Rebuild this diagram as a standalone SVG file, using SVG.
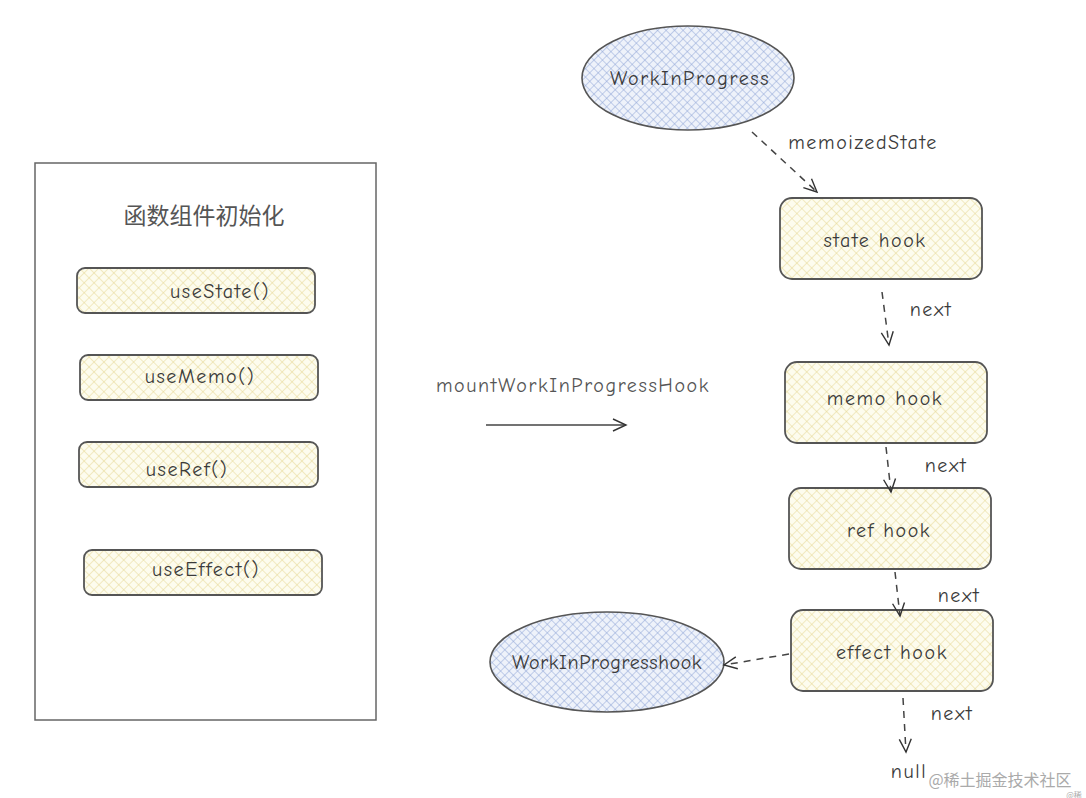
<svg xmlns="http://www.w3.org/2000/svg" width="1086" height="798" viewBox="0 0 1086 798">
<defs>
<pattern id="hb" width="6" height="6" patternUnits="userSpaceOnUse" patternTransform="rotate(45)">
<rect width="6" height="6" fill="#eef2fa"/>
<path d="M0 0H6M0 0V6" stroke="#8ea5d6" stroke-width="1"/>
</pattern>
<pattern id="hy" width="7" height="7" patternUnits="userSpaceOnUse" patternTransform="rotate(45)">
<rect width="7" height="7" fill="#fdfcee"/>
<path d="M0 0H7M0 0V7" stroke="#e6d793" stroke-width="1"/>
</pattern>
<marker id="ah" markerWidth="16" markerHeight="16" refX="14" refY="8" orient="auto" markerUnits="userSpaceOnUse">
<path d="M1 2 L14 8 L1 14" fill="none" stroke="#333" stroke-width="1.4"/>
</marker>
</defs>
<style>
.t{font-family:"Comic Neue","Noto Sans","Liberation Sans",sans-serif;font-size:20px;letter-spacing:1.6px;fill:#3a3a3a;text-anchor:middle;dominant-baseline:central}
.y{fill:url(#hy);stroke:#555;stroke-width:1.8}
.b{fill:url(#hb);stroke:#555;stroke-width:1.6}
.d{fill:none;stroke:#444;stroke-width:1.5;stroke-dasharray:7 6;marker-end:url(#ah)}
</style>
<rect width="1086" height="798" fill="#fff"/>
<g id="container">
<rect x="35" y="163" width="341" height="557" fill="#fff" stroke="#666" stroke-width="1.5"/>
<text x="204" y="214" style="font-family:'Noto Sans CJK SC',sans-serif;font-size:23px;fill:#555;text-anchor:middle;dominant-baseline:central">函数组件初始化</text>
</g>
<g id="useState"><rect class="y" x="77" y="268" width="238" height="45" rx="8"/><text class="t" x="220" y="291">useState()</text></g>
<g id="useMemo"><rect class="y" x="80" y="355" width="238" height="45" rx="8"/><text class="t" x="200" y="376">useMemo()</text></g>
<g id="useRef"><rect class="y" x="79" y="442" width="239" height="45" rx="8"/><text class="t" x="187" y="469">useRef()</text></g>
<g id="useEffect"><rect class="y" x="84" y="550" width="238" height="45" rx="8"/><text class="t" x="206" y="569">useEffect()</text></g>
<g id="mountLabel"><text class="t" x="573" y="385" style="fill:#555">mountWorkInProgressHook</text></g>
<g id="wip"><ellipse class="b" cx="688" cy="78" rx="106" ry="52"/><text class="t" x="690" y="78">WorkInProgress</text></g>
<g id="stateHook"><rect class="y" x="780" y="198" width="202" height="81" rx="12"/><text class="t" x="875" y="240">state hook</text></g>
<g id="memoHook"><rect class="y" x="785" y="362" width="202" height="81" rx="12"/><text class="t" x="885" y="398">memo hook</text></g>
<g id="refHook"><rect class="y" x="789" y="488" width="202" height="81" rx="12"/><text class="t" x="889" y="530">ref hook</text></g>
<g id="effectHook"><rect class="y" x="791" y="610" width="202" height="81" rx="12"/><text class="t" x="892" y="652">effect hook</text></g>
<g id="wipHook"><ellipse class="b" cx="607" cy="662" rx="117" ry="50"/><text class="t" x="607" y="662" style="letter-spacing:0.6px">WorkInProgresshook</text></g>
<g id="nullNode"><text class="t" x="909" y="771">null</text></g>
<g id="connectors">
<path d="M486 425 L626 425" fill="none" stroke="#444" stroke-width="1.5" marker-end="url(#ah)"/>
<path class="d" d="M752 132 L817 192"/>
<text class="t" x="863" y="142">memoizedState</text>
<path class="d" d="M882 292 L889 345"/>
<text class="t" x="931" y="309">next</text>
<path class="d" d="M886 447 L891 492"/>
<text class="t" x="946" y="465">next</text>
<path class="d" d="M895 572 L900 616"/>
<text class="t" x="959" y="595">next</text>
<path class="d" d="M789 654 L724 665"/>
<path class="d" d="M903 698 L906 752"/>
<text class="t" x="952" y="713">next</text>
</g>
<text x="1000" y="779" style="font-family:'Noto Sans CJK SC',sans-serif;font-size:16px;fill:#aaa;text-anchor:middle;dominant-baseline:central">@稀土掘金技术社区</text>
<text x="1074" y="794" style="font-family:'Noto Sans CJK SC',sans-serif;font-size:8px;fill:#aaa;text-anchor:middle;dominant-baseline:central">@稀</text>
</svg>
